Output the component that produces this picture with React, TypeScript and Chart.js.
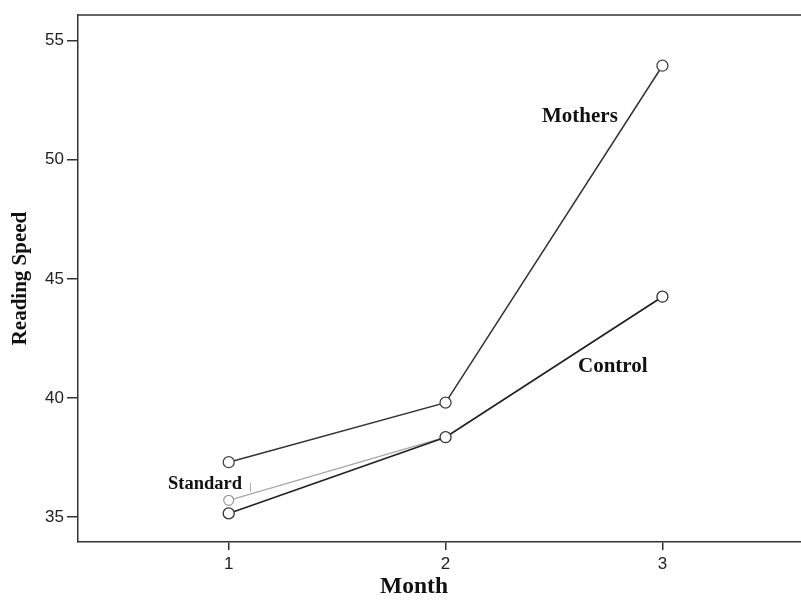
import React, { useEffect, useRef } from "react";
import { Chart, registerables } from "chart.js";

Chart.register(...registerables);

const months = [1, 2, 3];
const mothers = [37.3, 39.8, 53.95];
const control = [35.15, 38.35, 44.25];
const standard = [35.7, 38.35, 44.25];
const yTicks = [35, 40, 45, 50, 55];
const xTicks = [1, 2, 3];
const seriesNames = ["Mothers", "Control", "Standard"];

const SERIF = "'Liberation Serif', 'Times New Roman', serif";
const SANS = "'Liberation Sans', Arial, sans-serif";

const labelPlugin = {
  id: "labelPlugin",
  afterDatasetsDraw(chart: any) {
    const ctx = chart.ctx;
    const area = chart.chartArea;
    ctx.save();
    // top frame line
    ctx.strokeStyle = "#333";
    ctx.lineWidth = 1.5;
    ctx.beginPath();
    ctx.moveTo(area.left, area.top);
    ctx.lineTo(chart.width, area.top);
    ctx.stroke();
    // series labels
    ctx.fillStyle = "#111";
    ctx.textBaseline = "alphabetic";
    ctx.textAlign = "left";
    ctx.font = "bold 21px " + SERIF;
    ctx.fillText(seriesNames[0], 542, 122);
    ctx.fillText(seriesNames[1], 578, 372);
    ctx.font = "bold 18.5px " + SERIF;
    ctx.fillText(seriesNames[2], 168, 489);
    ctx.strokeStyle = "#aaa";
    ctx.lineWidth = 1;
    ctx.beginPath();
    ctx.moveTo(250.5, 483);
    ctx.lineTo(250.5, 492);
    ctx.stroke();
    // x title
    ctx.fillStyle = "#111";
    ctx.textAlign = "center";
    ctx.font = "bold 23.5px " + SERIF;
    ctx.fillText("Month", 414, 593);
    ctx.restore();
  },
};

export default function App() {
  const ref = useRef<HTMLCanvasElement | null>(null);
  useEffect(() => {
    document.body.style.margin = "0";
    const canvas = ref.current;
    if (!canvas) return;
    const pts = (arr: number[]) => months.map((m, i) => ({ x: m, y: arr[i] }));
    const chart = new Chart(canvas, {
      type: "line",
      data: {
        datasets: [
          {
            label: seriesNames[2],
            data: pts(standard),
            borderColor: "#a8a8a8",
            borderWidth: 1.3,
            pointRadius: 5,
            pointBorderColor: "#999",
            pointBackgroundColor: "#fff",
            pointBorderWidth: 1.2,
            order: 3,
          },
          {
            label: seriesNames[0],
            data: pts(mothers),
            borderColor: "#333",
            borderWidth: 1.5,
            pointRadius: 5.5,
            pointBorderColor: "#444",
            pointBackgroundColor: "#fff",
            pointBorderWidth: 1.3,
            order: 1,
          },
          {
            label: seriesNames[1],
            data: pts(control),
            borderColor: "#222",
            borderWidth: 1.6,
            pointRadius: 5.5,
            pointBorderColor: "#333",
            pointBackgroundColor: "#fff",
            pointBorderWidth: 1.3,
            order: 2,
          },
        ],
      },
      options: {
        responsive: false,
        animation: false,
        layout: { padding: { top: 15, right: 0, left: 0, bottom: 0 } },
        plugins: { legend: { display: false }, tooltip: { enabled: false } },
        scales: {
          x: {
            type: "linear",
            min: 0.305,
            max: 3.64,
            afterBuildTicks: (s: any) => {
              s.ticks = xTicks.map((v) => ({ value: v }));
            },
            afterFit: (s: any) => {
              s.height = 59;
            },
            grid: { drawOnChartArea: false, drawTicks: true, tickLength: 8, color: "#333", lineWidth: 1.5 },
            border: { display: true, color: "#333", width: 1.5 },
            ticks: {
              color: "#222",
              padding: 4,
              font: { family: SANS, size: 17 },
            },
          },
          y: {
            type: "linear",
            min: 33.95,
            max: 56.08,
            afterBuildTicks: (s: any) => {
              s.ticks = yTicks.map((v) => ({ value: v }));
            },
            afterFit: (s: any) => {
              s.width = 78;
            },
            grid: { drawOnChartArea: false, drawTicks: true, tickLength: 11, color: "#333", lineWidth: 1.5 },
            border: { display: true, color: "#333", width: 1.5 },
            ticks: {
              color: "#222",
              padding: 3,
              font: { family: SANS, size: 17 },
            },
            title: {
              display: true,
              text: "Reading Speed",
              color: "#111",
              padding: { top: 8, bottom: 0 },
              font: { family: SERIF, size: 21, weight: "bold" },
            },
          },
        },
      },
      plugins: [labelPlugin],
    } as any);
    return () => chart.destroy();
  }, []);
  return (
    <div style={{ width: 801, height: 601, overflow: "hidden", background: "#fff" }}>
      <canvas ref={ref} width={808} height={601} style={{ display: "block" }} />
    </div>
  );
}
